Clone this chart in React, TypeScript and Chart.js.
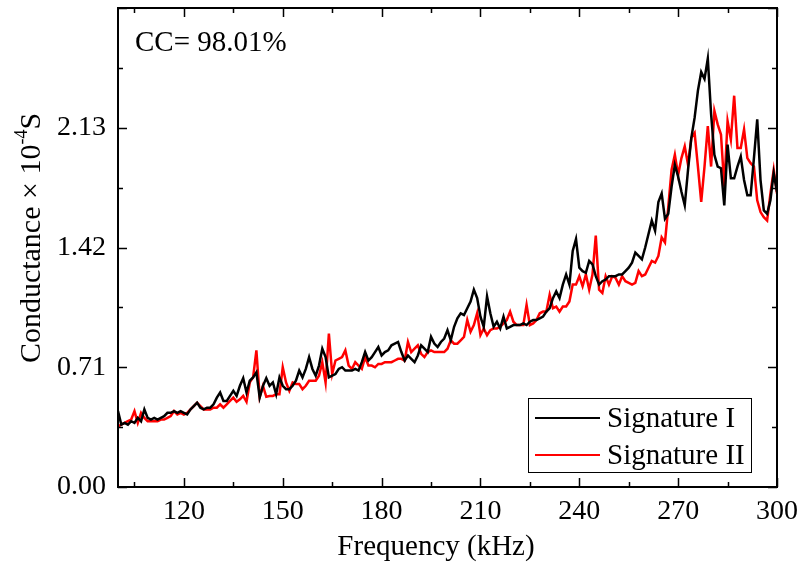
import { useEffect, useRef } from "react";
import { Chart, registerables } from "chart.js";

Chart.register(...registerables);

// Frequency axis: one sample per kHz, 100 … 300 kHz
const freqStartKHz = 100;
const freqStepKHz = 1;

// Conductance (×10^-4 S), Signature I (black)
const signatureI = [
  0.45, 0.37, 0.38, 0.37, 0.39, 0.38, 0.41, 0.39, 0.46, 0.41,
  0.40, 0.41, 0.40, 0.41, 0.42, 0.44, 0.44, 0.45, 0.44, 0.45,
  0.44, 0.43, 0.46, 0.48, 0.50, 0.47, 0.46, 0.47, 0.47, 0.49,
  0.53, 0.56, 0.51, 0.51, 0.54, 0.57, 0.54, 0.60, 0.645, 0.56,
  0.63, 0.65, 0.68, 0.53, 0.60, 0.645, 0.60, 0.62, 0.55, 0.65,
  0.60, 0.58, 0.58, 0.60, 0.63, 0.69, 0.65, 0.70, 0.77, 0.70,
  0.66, 0.72, 0.82, 0.77, 0.65, 0.66, 0.67, 0.70, 0.71, 0.69,
  0.69, 0.69, 0.70, 0.69, 0.74, 0.80, 0.75, 0.77, 0.80, 0.83,
  0.78, 0.80, 0.81, 0.84, 0.85, 0.86, 0.80, 0.75, 0.78, 0.76,
  0.74, 0.78, 0.84, 0.82, 0.80, 0.89, 0.85, 0.83, 0.86, 0.88,
  0.93, 0.87, 0.95, 1.00, 1.03, 1.02, 1.06, 1.10, 1.17, 1.12,
  1.01, 0.95, 1.13, 1.03, 0.95, 0.98, 0.94, 1.01, 0.94, 0.95,
  0.96, 0.96, 0.96, 0.97, 0.96, 0.98, 0.99, 0.99, 1.00, 1.01,
  1.04, 1.06, 1.12, 1.16, 1.12, 1.20, 1.26, 1.20, 1.40, 1.47,
  1.30, 1.28, 1.27, 1.34, 1.32, 1.25, 1.20, 1.22, 1.23, 1.25,
  1.25, 1.25, 1.26, 1.26, 1.28, 1.30, 1.33, 1.39, 1.37, 1.35,
  1.42, 1.50, 1.58, 1.52, 1.69, 1.74, 1.59, 1.62, 1.78, 1.91,
  1.84, 1.75, 1.67, 1.88, 2.07, 2.19, 2.35, 2.46, 2.42, 2.54,
  2.21, 1.97, 1.90, 1.89, 1.67, 2.03, 1.83, 1.83, 1.90, 1.96,
  1.82, 1.73, 1.73, 1.95, 2.18, 1.82, 1.64, 1.62, 1.70, 1.86,
  1.75,
];

// Conductance (×10^-4 S), Signature II (red)
const signatureII = [
  0.36, 0.37, 0.38, 0.39, 0.40, 0.45, 0.38, 0.44, 0.41, 0.39,
  0.39, 0.39, 0.39, 0.40, 0.40, 0.41, 0.42, 0.45, 0.43, 0.44,
  0.43, 0.44, 0.46, 0.48, 0.50, 0.48, 0.46, 0.46, 0.46, 0.47,
  0.47, 0.49, 0.47, 0.49, 0.51, 0.53, 0.505, 0.52, 0.54, 0.505,
  0.62, 0.65, 0.81, 0.535, 0.60, 0.535, 0.54, 0.54, 0.55, 0.55,
  0.71, 0.62, 0.57, 0.62, 0.61, 0.61, 0.58, 0.60, 0.63, 0.63,
  0.63, 0.66, 0.74, 0.62, 0.91, 0.67, 0.75, 0.76, 0.77, 0.81,
  0.72, 0.70, 0.74, 0.72, 0.70, 0.77, 0.72, 0.72, 0.71, 0.73,
  0.73, 0.74, 0.74, 0.74, 0.75, 0.76, 0.76, 0.75, 0.86, 0.80,
  0.82, 0.84, 0.79, 0.77, 0.80, 0.81, 0.80, 0.80, 0.80, 0.80,
  0.82, 0.87, 0.85, 0.85, 0.87, 0.89, 0.99, 0.92, 0.96, 1.03,
  0.90, 0.94, 0.90, 0.93, 0.94, 0.94, 0.95, 0.97, 0.99, 1.04,
  0.98, 0.96, 0.96, 0.96, 1.08, 0.96, 0.97, 0.99, 1.03, 1.04,
  1.04, 1.14, 1.06, 1.07, 1.04, 1.07, 1.07, 1.10, 1.20, 1.20,
  1.25, 1.19, 1.26, 1.17, 1.26, 1.49, 1.17, 1.15, 1.25, 1.20,
  1.25, 1.24, 1.20, 1.25, 1.22, 1.21, 1.20, 1.21, 1.28, 1.25,
  1.26, 1.30, 1.34, 1.33, 1.37, 1.48, 1.45, 1.66, 1.88, 1.97,
  1.85, 1.95, 2.02, 1.91, 2.07, 2.10, 1.90, 1.69, 1.90, 2.14,
  1.90, 2.23, 2.15, 2.09, 1.78, 2.17, 2.06, 2.32, 2.01, 2.01,
  2.12, 1.95, 1.92, 1.90, 1.70, 1.63, 1.60, 1.58, 1.74, 1.88,
  1.74,
];

const seriesNames = ["Signature I", "Signature II"];
const seriesColors = ["#000000", "#ff0000"];

const xMin = 100;
const xMax = 300;
const xMajorTicks = [120, 150, 180, 210, 240, 270, 300];
const xMinorTicks = [105, 135, 165, 195, 225, 255, 285];
const yMin = 0;
const yMax = 2.84;
const yMajorTicks = [0, 0.71, 1.42, 2.13];
const yMinorTicks = [0.355, 1.065, 1.775, 2.485];

const xTitle = "Frequency (kHz)";
const yTitleMain = "Conductance × 10";
const yTitleSup = "-4";
const yTitleEnd = "S";
const ccLabel = "CC= 98.01%";

const FONT = "'Liberation Serif', 'Times New Roman', serif";

function toPoints(values: number[]) {
  return values.map((v, i) => ({ x: freqStartKHz + i * freqStepKHz, y: v }));
}

const decorPlugin = {
  id: "decor",
  afterDatasetsDraw(chart: any) {
    const { ctx, chartArea: a, scales } = chart;
    const xs = scales.x;
    const ys = scales.y;
    ctx.save();
    ctx.strokeStyle = "#000";
    ctx.lineWidth = 2;
    ctx.strokeRect(a.left, a.top, a.right - a.left, a.bottom - a.top);

    const major = 9;
    const minor = 5;
    ctx.lineWidth = 1.5;
    ctx.beginPath();
    const xt = [...xMajorTicks.map((v) => [v, major]), ...xMinorTicks.map((v) => [v, minor])];
    for (const [v, len] of xt) {
      const px = Math.round(xs.getPixelForValue(v)) + 0.5;
      ctx.moveTo(px, a.bottom);
      ctx.lineTo(px, a.bottom - len);
      ctx.moveTo(px, a.top);
      ctx.lineTo(px, a.top + len);
    }
    const yt = [...yMajorTicks.map((v) => [v, major]), ...yMinorTicks.map((v) => [v, minor]), [yMax, major]];
    for (const [v, len] of yt) {
      const py = Math.round(ys.getPixelForValue(v)) + 0.5;
      ctx.moveTo(a.left, py);
      ctx.lineTo(a.left + len, py);
      ctx.moveTo(a.right, py);
      ctx.lineTo(a.right - len, py);
    }
    ctx.stroke();

    // CC annotation
    ctx.fillStyle = "#000";
    ctx.font = `29px ${FONT}`;
    ctx.textAlign = "left";
    ctx.textBaseline = "middle";
    ctx.fillText(ccLabel, a.left + 17, a.top + 35);

    // Legend box
    const lx = 528.5, ly = 398.5, lw = 223, lh = 74;
    ctx.fillStyle = "#fff";
    ctx.fillRect(lx, ly, lw, lh);
    ctx.lineWidth = 1;
    ctx.strokeStyle = "#000";
    ctx.strokeRect(lx, ly, lw, lh);
    const rows = [418, 455];
    ctx.font = `29px ${FONT}`;
    rows.forEach((ry, i) => {
      ctx.strokeStyle = seriesColors[i];
      ctx.lineWidth = 2;
      ctx.beginPath();
      ctx.moveTo(535, ry);
      ctx.lineTo(600, ry);
      ctx.stroke();
      ctx.fillStyle = "#000";
      ctx.fillText(seriesNames[i], 607, ry + 1);
    });

    // X title
    ctx.font = `29px ${FONT}`;
    ctx.textAlign = "center";
    ctx.textBaseline = "middle";
    ctx.fillText(xTitle, 436, 547);

    // Y title with superscript
    ctx.save();
    ctx.translate(30, 238);
    ctx.rotate(-Math.PI / 2);
    const mainFont = `30px ${FONT}`;
    const supFont = `18px ${FONT}`;
    ctx.font = mainFont;
    const w1 = ctx.measureText(yTitleMain).width;
    const w3 = ctx.measureText(yTitleEnd).width;
    ctx.font = supFont;
    const w2 = ctx.measureText(yTitleSup).width;
    const total = w1 + w2 + w3;
    let cx = -total / 2;
    ctx.textAlign = "left";
    ctx.textBaseline = "alphabetic";
    ctx.font = mainFont;
    ctx.fillText(yTitleMain, cx, 10);
    cx += w1;
    ctx.font = supFont;
    ctx.fillText(yTitleSup, cx, -3);
    cx += w2;
    ctx.font = mainFont;
    ctx.fillText(yTitleEnd, cx, 10);
    ctx.restore();

    ctx.restore();
  },
};

export default function App() {
  const canvasRef = useRef<HTMLCanvasElement | null>(null);

  useEffect(() => {
    const canvas = canvasRef.current;
    if (!canvas) return;
    const chart = new Chart(canvas, {
      type: "line",
      data: {
        datasets: [
          {
            label: seriesNames[0],
            data: toPoints(signatureI),
            borderColor: seriesColors[0],
            borderWidth: 2.5,
            pointRadius: 0,
            tension: 0,
            fill: false,
          },
          {
            label: seriesNames[1],
            data: toPoints(signatureII),
            borderColor: seriesColors[1],
            borderWidth: 2.5,
            pointRadius: 0,
            tension: 0,
            fill: false,
          },
        ],
      },
      options: {
        responsive: false,
        animation: false,
        events: [],
        layout: { padding: { left: 0, top: 8, right: 20, bottom: 0 } },
        plugins: {
          legend: { display: false },
          tooltip: { enabled: false },
          title: { display: false },
        },
        scales: {
          x: {
            type: "linear",
            min: xMin,
            max: xMax,
            grid: { display: false, drawTicks: false },
            border: { display: false },
            afterBuildTicks: (scale: any) => {
              scale.ticks = xMajorTicks.map((v) => ({ value: v }));
            },
            afterFit: (scale: any) => {
              scale.height = 76;
              scale.paddingLeft = 0;
              scale.paddingRight = 0;
            },
            ticks: {
              color: "#000",
              font: { family: FONT, size: 28 },
              padding: 8,
              maxRotation: 0,
              autoSkip: false,
              callback: (v: any) => String(v),
            },
          },
          y: {
            type: "linear",
            min: yMin,
            max: yMax,
            grid: { display: false, drawTicks: false },
            border: { display: false },
            afterBuildTicks: (scale: any) => {
              scale.ticks = yMajorTicks.map((v) => ({ value: v }));
            },
            afterFit: (scale: any) => {
              scale.width = 118;
              scale.paddingTop = 0;
              scale.paddingBottom = 0;
            },
            ticks: {
              color: "#000",
              font: { family: FONT, size: 28 },
              padding: 12,
              autoSkip: false,
              callback: (v: any) => Number(v).toFixed(2),
            },
          },
        },
      },
      plugins: [decorPlugin],
    });
    return () => chart.destroy();
  }, []);

  return (
    <div style={{ position: "fixed", left: 0, top: 0, width: 797, height: 563, background: "#fff" }}>
      <canvas ref={canvasRef} width={797} height={563} style={{ display: "block" }} />
    </div>
  );
}
